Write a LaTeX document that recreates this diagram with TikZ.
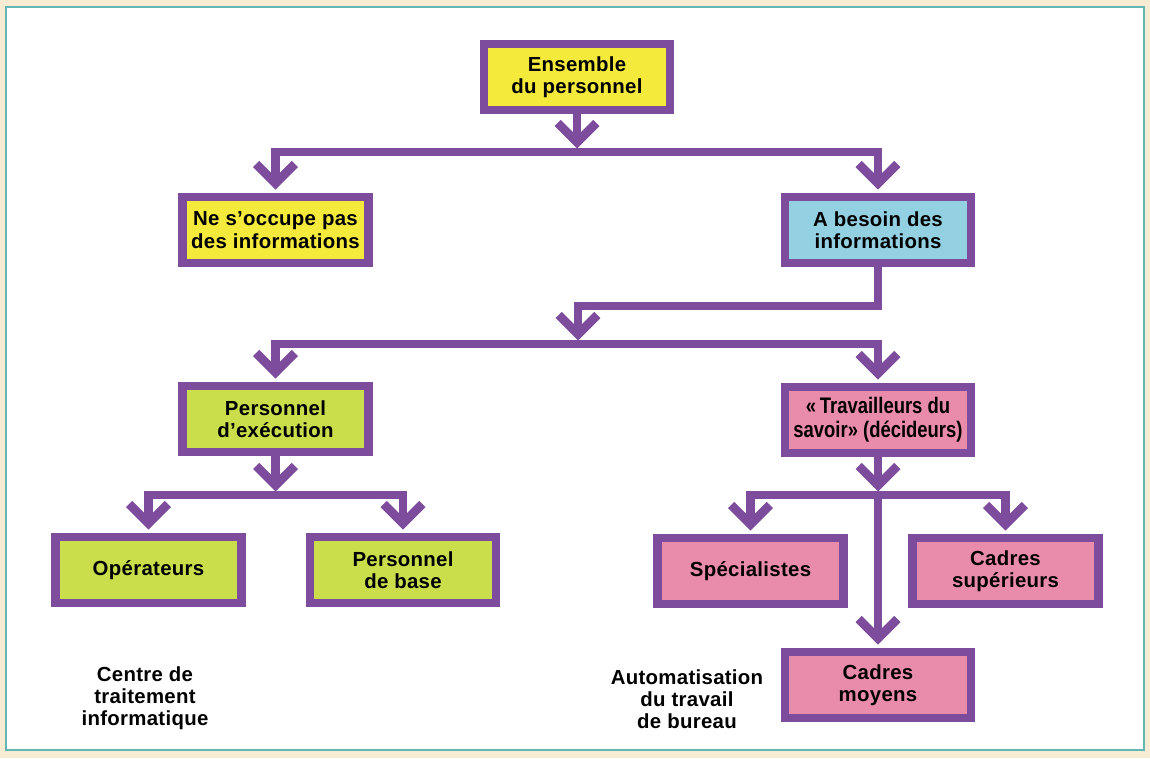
\documentclass[tikz,border=0pt]{standalone}
\usepackage{fontspec}
\setmainfont{Liberation Sans}[LetterSpace=1.5]
\newfontfamily\etroit{Liberation Sans}[FakeStretch=0.82]
\usetikzlibrary{arrows.meta}

\definecolor{mauve}{HTML}{7E4C9C}
\definecolor{jaune}{HTML}{F4EA3C}
\definecolor{bleu}{HTML}{93D0E2}
\definecolor{vert}{HTML}{CADD4A}
\definecolor{rose}{HTML}{E98BAA}
\definecolor{cadre}{HTML}{62B7B5}
\definecolor{creme}{HTML}{F5ECD3}

\tikzset{
    boite/.style = {draw=mauve, line width=4.8pt, rectangle, minimum width=37.2mm, minimum height=13.1mm, inner sep=0pt, align=center, font=\fontsize{11.6}{12.8}\selectfont\bfseries},
    lien/.style = {draw=mauve, line width=5pt, line join=miter},
    fleche/.style = {-{Straight Barb[length=11pt, width=22pt, sharp]}, shorten >=2pt},
    legende/.style = {align=center, font=\fontsize{11.6}{12.6}\selectfont\bfseries},
}

\begin{document}
\begin{tikzpicture}[x=0.2mm, y=-0.2mm]
\useasboundingbox (0,0) rectangle (1150,758);
\fill[creme] (0,0) rectangle (1150,758);
\fill[white] (6,7) rectangle (1144,750);
\draw[cadre, line width=1.2pt] (6,7) rectangle (1144,750);

% les boites
\node[boite, fill=jaune] (ens) at (577,77) {Ensemble\\du personnel};
\node[boite, fill=jaune] (nsp) at (275.5,230) {Ne s’occupe pas\\des informations};
\node[boite, fill=bleu] (abs) at (878,230) {A besoin des\\informations};
\node[boite, fill=vert] (pex) at (275.5,419) {Personnel\\d’exécution};
\node[boite, fill=rose, font=\fontsize{12.8}{13.8}\selectfont\etroit\bfseries] (tds) at (878,420) {«\,Travailleurs du\\savoir» (décideurs)};
\node[boite, fill=vert] (ope) at (148.5,570) {Opérateurs};
\node[boite, fill=vert] (pdb) at (403,570) {Personnel\\de base};
\node[boite, fill=rose] (spe) at (750.5,571) {Spécialistes};
\node[boite, fill=rose] (csu) at (1005.5,571) {Cadres\\supérieurs};
\node[boite, fill=rose] (cmo) at (878,685) {Cadres\\moyens};

\node[legende] (cti) at (145,698) {Centre de\\traitement\\informatique};
\node[legende] (atb) at (687,699) {Automatisation\\du travail\\de bureau};

% les barres
\coordinate (j1) at (577,152);
\coordinate (k2) at (578,306);
\coordinate (j2) at (578,344);
\coordinate (j3) at (275.5,495);
\coordinate (j4) at (878,495);

\draw[lien, fleche] (ens) -- (j1);
\draw[lien, fleche] (j1) -| (nsp.north);
\draw[lien, fleche] (j1) -| (abs.north);

\draw[lien, fleche] (abs.south) |- (k2) -- (j2);
\draw[lien, fleche] (j2) -| (pex.north);
\draw[lien, fleche] (j2) -| (tds.north);

\draw[lien, fleche] (pex) -- (j3);
\draw[lien, fleche] (j3) -| (ope.north);
\draw[lien, fleche] (j3) -| (pdb.north);

\draw[lien, fleche] (tds) -- (j4);
\draw[lien, fleche] (j4) -| (spe.north);
\draw[lien, fleche] (j4) -| (csu.north);
\draw[lien, fleche] (j4) -- (cmo.north);
\end{tikzpicture}
\end{document}
